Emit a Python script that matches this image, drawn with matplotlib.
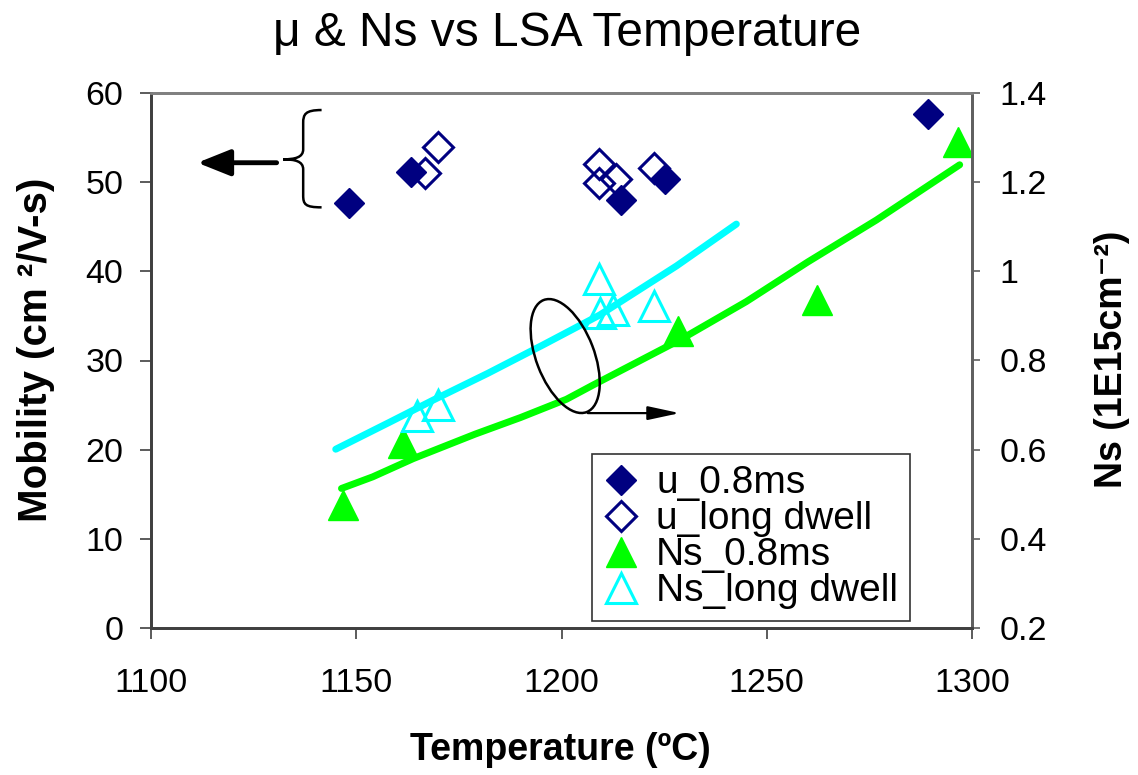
import matplotlib
matplotlib.use("Agg")
import matplotlib.pyplot as plt
from matplotlib.patches import Ellipse, PathPatch
from matplotlib.path import Path
from matplotlib.transforms import ScaledTranslation

plt.rcParams['font.family'] = ['Liberation Sans', 'DejaVu Sans']

# ---- data ----
u_08_T = [1148.2, 1163.3, 1214.4, 1225.2, 1289.4]
u_08_mu = [47.7, 51.1, 48.0, 50.3, 57.6]

u_long_T = [1166.7, 1169.9, 1209.1, 1209.1, 1213.2, 1222.5]
u_long_mu = [51.0, 53.9, 52.0, 49.9, 50.3, 51.6]

ns_08_T = [1146.7, 1161.4, 1228.3, 1262.2, 1296.7]
ns_08 = [0.476, 0.615, 0.866, 0.936, 1.290]

ns_long_T = [1164.8, 1169.9, 1209.1, 1209.3, 1212.5, 1222.5]
ns_long = [0.676, 0.700, 0.982, 0.907, 0.913, 0.922]

fit_long_T = [1145.0, 1158.0, 1168.7, 1182.0, 1195.5, 1209.3, 1228.0, 1242.6]
fit_long_ns = [0.601, 0.661, 0.711, 0.771, 0.835, 0.902, 1.012, 1.106]

fit_08_T = [1146.4, 1154.0, 1163.9, 1179.0, 1190.0, 1201.2, 1207.7, 1228.8, 1245.0,
            1260.0, 1276.7, 1297.0]
fit_08_ns = [0.513, 0.539, 0.580, 0.635, 0.672, 0.713, 0.745, 0.846, 0.932,
             1.021, 1.115, 1.239]

x_ticks = [1100, 1150, 1200, 1250, 1300]
left_ticks = [0, 10, 20, 30, 40, 50, 60]
right_ticks = [0.2, 0.4, 0.6, 0.8, 1.0, 1.2, 1.4]
right_tick_labels = ['0.2', '0.4', '0.6', '0.8', '1', '1.2', '1.4']

NAVY = '#000080'
GREEN = '#00FF00'
CYAN = '#00FFFF'

fig = plt.figure(figsize=(11.38, 7.75), dpi=100)
ax = fig.add_axes([151/1138, 1-628/775, (972-151)/1138, (628-93)/775])
ax2 = ax.twinx()

ax.set_xlim(1100, 1300)
ax.set_ylim(0, 60)
ax2.set_ylim(0.2, 1.4)

# fitted lines (right axis)
ax2.plot(fit_long_T, fit_long_ns, color=CYAN, lw=5, solid_capstyle='round',
         solid_joinstyle='round', zorder=2)
ax2.plot(fit_08_T, fit_08_ns, color=GREEN, lw=5, solid_capstyle='round',
         solid_joinstyle='round', zorder=2)

# triangles (right axis)
h3 = ax2.plot(ns_08_T, ns_08, linestyle='none', marker='^', ms=22, color=GREEN,
              mec=GREEN, label='Ns_0.8ms', zorder=3)[0]
h4 = ax2.plot(ns_long_T, ns_long, linestyle='none', marker='^', ms=22, mfc='none',
              mec=CYAN, mew=2.2, label='Ns_long dwell', zorder=3)[0]

# diamonds (left axis)
h1 = ax.plot(u_08_T, u_08_mu, linestyle='none', marker='D', ms=15.5, color=NAVY,
             mec=NAVY, label='u_0.8ms', zorder=3)[0]
h2 = ax.plot(u_long_T, u_long_mu, linestyle='none', marker='D', ms=15.5, mfc='none',
             mec=NAVY, mew=2.2, label='u_long dwell', zorder=3)[0]
ax.set_zorder(ax2.get_zorder() + 1)
ax.patch.set_visible(False)

# spines / ticks
for a in (ax, ax2):
    for s in a.spines.values():
        s.set_linewidth(2)
    a.spines['top'].set_color('#808080')
    a.spines['right'].set_color('#606060')
    a.spines['left'].set_color('#404040')
    a.spines['bottom'].set_color('#404040')

ax.set_xticks(x_ticks)
ax.set_xticklabels([str(t) for t in x_ticks])
ax.set_yticks(left_ticks)
ax2.set_yticks(right_ticks)
ax2.set_yticklabels(right_tick_labels)
ax.tick_params(axis='x', direction='out', length=8, width=1.2, color='#404040', labelsize=24.5, pad=21)
ax.tick_params(axis='y', direction='out', length=8, width=1.2, color='#404040', labelsize=24.5, pad=12)
ax2.tick_params(axis='y', direction='out', length=6, width=1.2, color='#606060', labelsize=24.5, pad=14)

fig.text(567/1138, 1-33/775, 'μ & Ns vs LSA Temperature', ha='center', va='center', fontsize=34.5)
fig.text(560/1138, 1-750/775, 'Temperature (ºC)', ha='center', va='center', fontsize=27,
         fontweight='bold')
fig.text(36/1138, 1-350/775, 'Mobility (cm ²/V-s)', ha='center', va='center', fontsize=29,
         fontweight='bold', rotation=90)
fig.text(1112/1138, 1-359/775, 'Ns (1E15cm⁻²)', ha='center', va='center', fontsize=27,
         fontweight='bold', rotation=90)

# legend
leg = ax.legend(handles=[h1, h2, h3, h4], loc='lower left',
                bbox_to_anchor=(0.537, 0.013), fontsize=28, frameon=True, fancybox=False,
                handlelength=0.9, handletextpad=0.45, labelspacing=0.0, borderpad=0.3,
                borderaxespad=0, markerscale=1.0)
leg.get_frame().set_edgecolor('black')
leg.get_frame().set_linewidth(1.2)

# annotations: brace + arrow pointing to left axis
px = 1/100.0
brace_anchor = ScaledTranslation(1132.2, 52.56, ax.transData)
verts = [(38.4, 49.3), (22, 49.3), (20, 45), (20, 36.3), (20, 10),
         (20, 2), (12, 0), (0, 0),
         (12, 0), (20, -2), (20, -10), (20, -36),
         (20, -45), (22, -48), (38.4, -48)]
codes = [Path.MOVETO, Path.CURVE4, Path.CURVE4, Path.CURVE4, Path.LINETO,
         Path.CURVE4, Path.CURVE4, Path.CURVE4,
         Path.CURVE4, Path.CURVE4, Path.CURVE4, Path.LINETO,
         Path.CURVE4, Path.CURVE4, Path.CURVE4]
brace = Path([(x*px, y*px) for x, y in verts], codes)
ax.add_patch(PathPatch(brace, facecolor='none', edgecolor='black', lw=1.8,
                       transform=fig.dpi_scale_trans + brace_anchor, clip_on=False))
ax.annotate('', xy=(1111.3, 52.18), xytext=(1130.6, 52.18),
            arrowprops=dict(arrowstyle='-|>,head_length=1.0,head_width=0.4', lw=3.5,
                            color='black', mutation_scale=20, shrinkA=0, shrinkB=0))

# ellipse + arrow pointing to right axis
ell_anchor = ScaledTranslation(1200.9, 30.5, ax.transData)
ax.add_patch(Ellipse((0, 0), 58*px, 120*px, angle=21, facecolor='none', edgecolor='black',
                     lw=1.8, transform=fig.dpi_scale_trans + ell_anchor))
ax.annotate('', xy=(1228.8, 24.1), xytext=(1206.4, 24.1),
            arrowprops=dict(arrowstyle='-|>,head_length=1.3,head_width=0.28', lw=1.6,
                            color='black', mutation_scale=15, shrinkA=0, shrinkB=0))

fig.savefig('out.png', dpi=100)
